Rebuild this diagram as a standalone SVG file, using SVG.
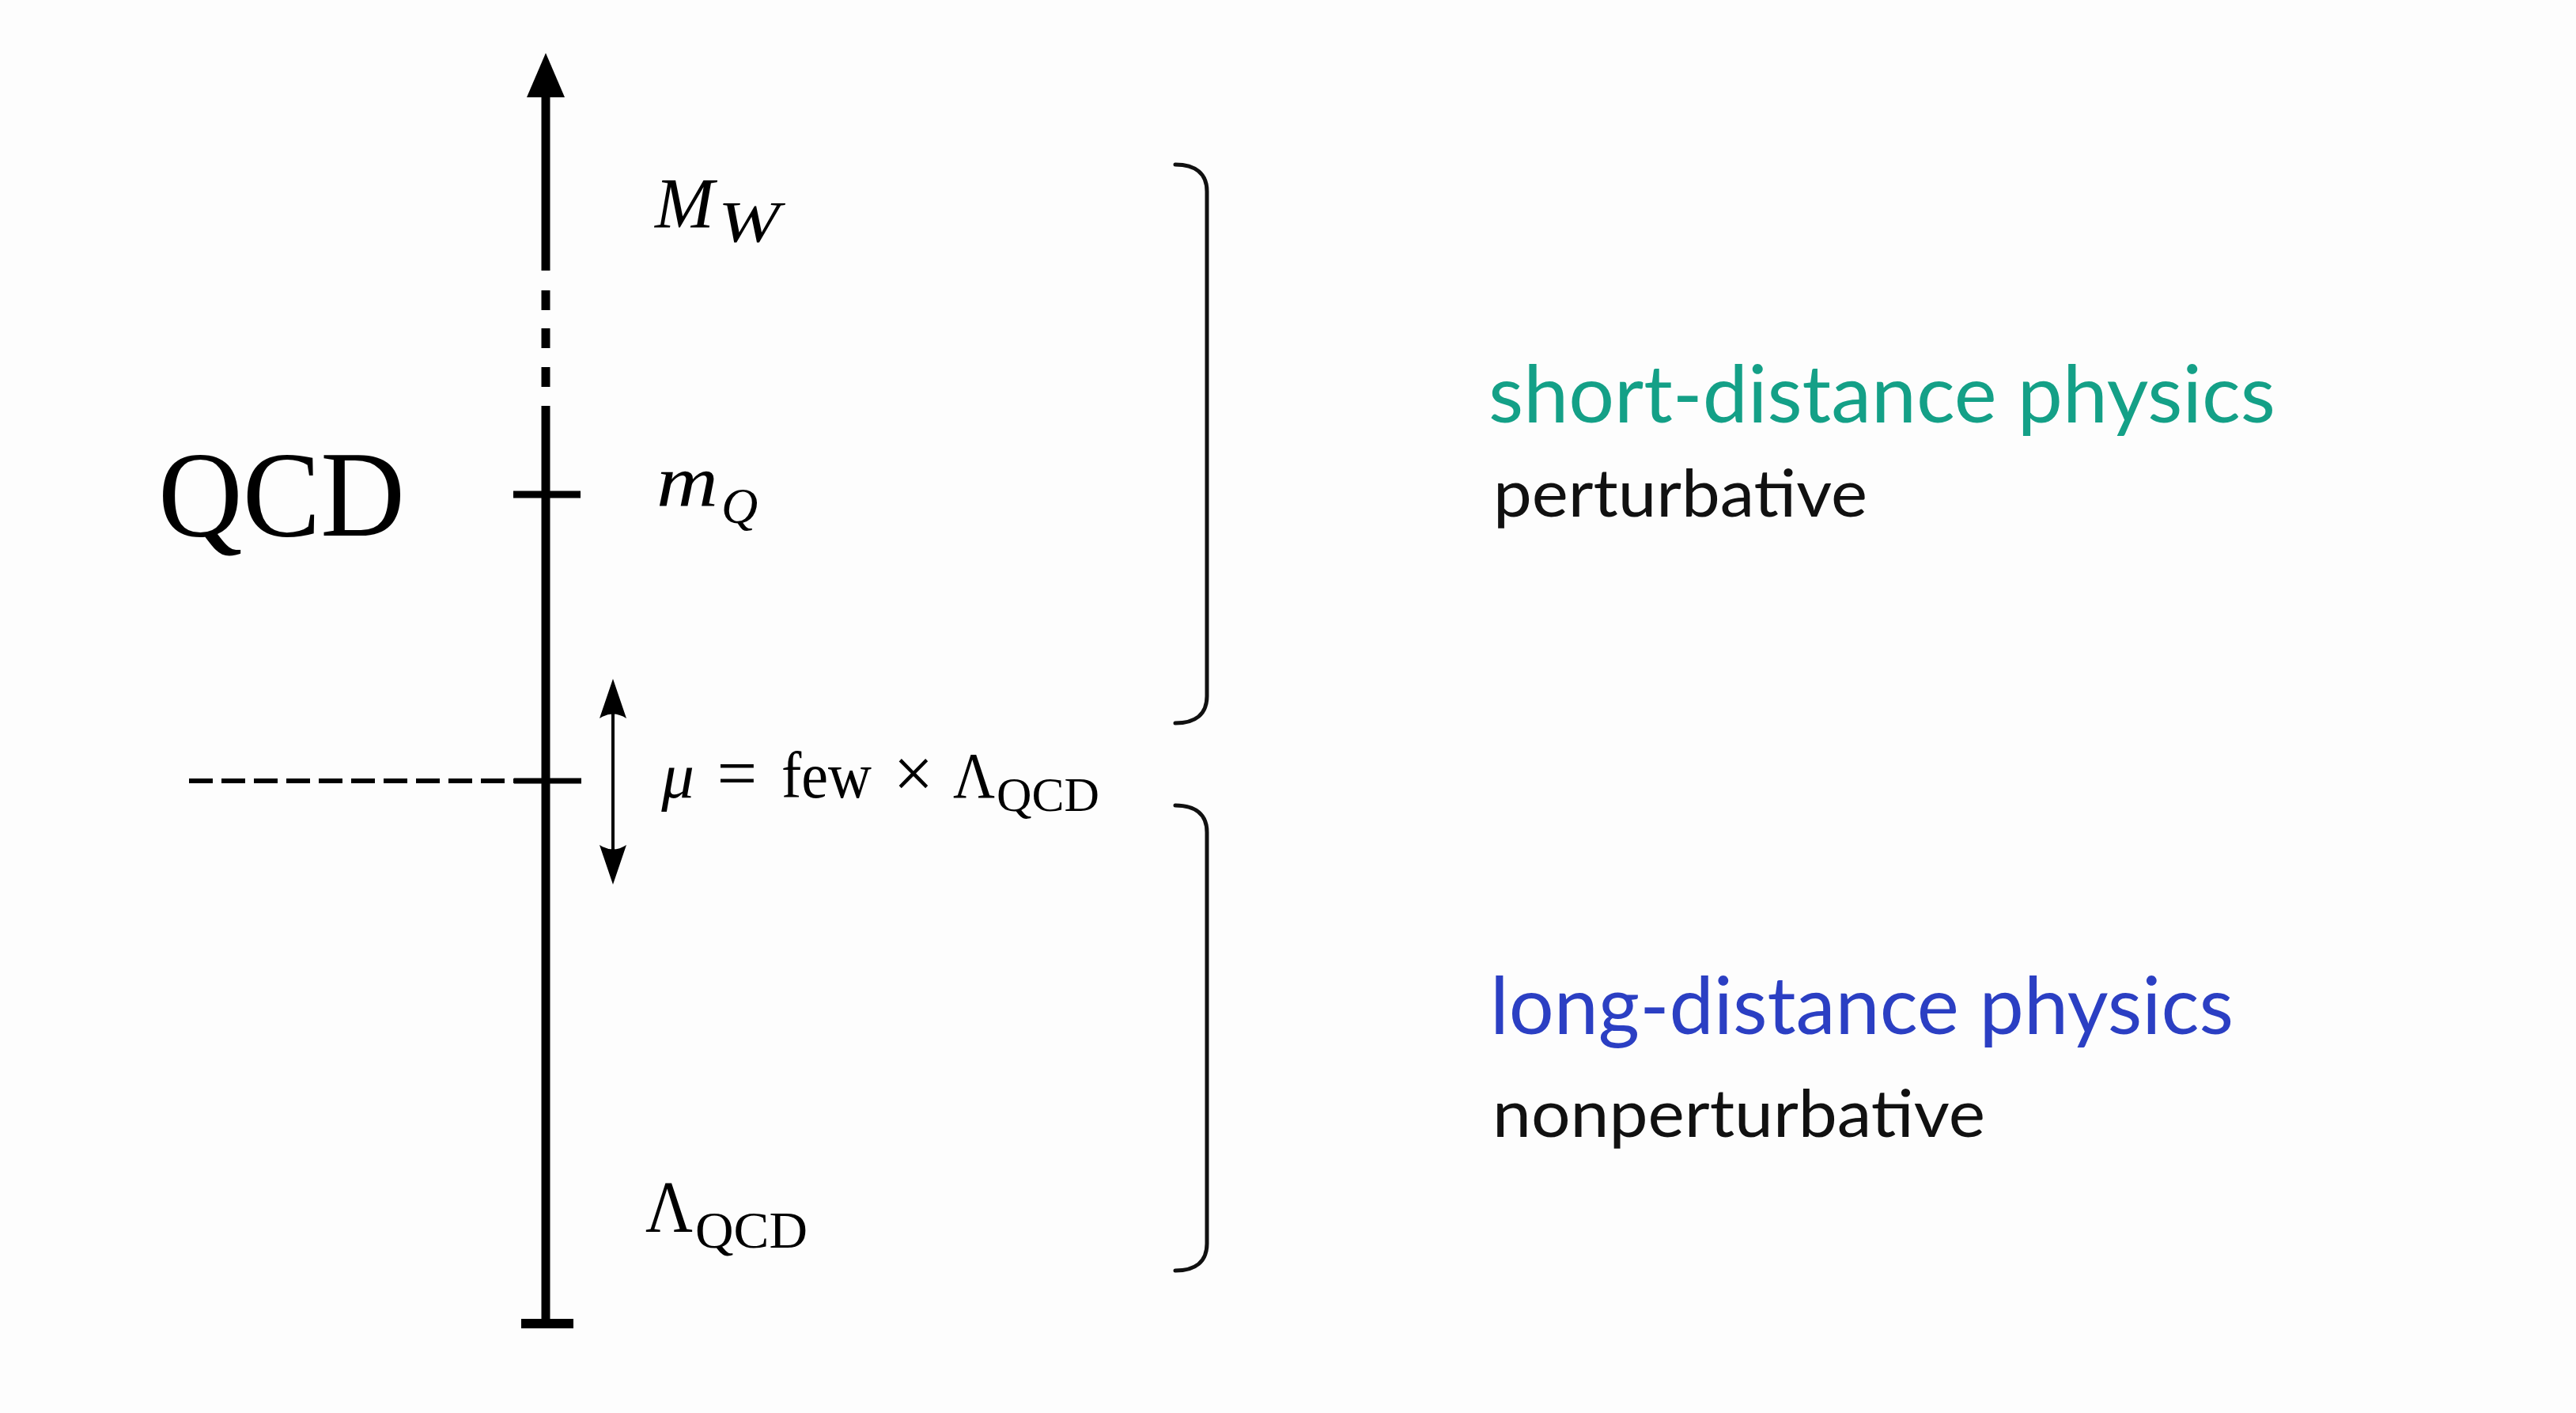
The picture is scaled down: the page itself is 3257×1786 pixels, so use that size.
<svg xmlns="http://www.w3.org/2000/svg" width="3257" height="1786" viewBox="0 0 3257 1786">
<style>
.math{font-family:"Liberation Serif","DejaVu Serif",serif;fill:#000}
.it{font-style:italic}
.ax{stroke:#000;fill:none}
.br{stroke:#111;stroke-width:5;fill:none;stroke-linecap:round}
.sans{font-family:Lato,"Open Sans","Noto Sans",sans-serif}
.teal{fill:#14a087}
.blue{fill:#2b3fc3}
.dark{fill:#111}
</style>
<rect x="0" y="0" width="3257" height="1786" fill="#fdfdfd"/>

<g id="connectors">
  <!-- main scale axis -->
  <polygon points="690,67 714,123 666,123" fill="#000"/>
  <line class="ax" x1="690" y1="120" x2="690" y2="342" stroke-width="11"/>
  <line class="ax" x1="690" y1="367" x2="690" y2="392" stroke-width="11"/>
  <line class="ax" x1="690" y1="415" x2="690" y2="440" stroke-width="11"/>
  <line class="ax" x1="690" y1="464" x2="690" y2="489" stroke-width="11"/>
  <line class="ax" x1="690" y1="513" x2="690" y2="1673" stroke-width="11"/>
  <!-- ticks -->
  <line class="ax" x1="649" y1="625" x2="734" y2="625" stroke-width="9"/>
  <line class="ax" x1="650" y1="987" x2="735" y2="987" stroke-width="7"/>
  <line class="ax" x1="659" y1="1673" x2="725" y2="1673" stroke-width="12"/>
  <!-- dashed cut line -->
  <line class="ax" x1="239" y1="987" x2="650" y2="987" stroke-width="6" stroke-dasharray="30 11"/>
  <!-- double arrow -->
  <line class="ax" x1="775" y1="885" x2="775" y2="1092" stroke-width="4"/>
  <path d="M775,858 L792,908 Q775,897 758,908 Z" fill="#000"/>
  <path d="M775,1118 L792,1068 Q775,1079 758,1068 Z" fill="#000"/>
  <!-- brackets -->
  <path class="br" d="M1486,208 C1512,208 1526,220 1526,242 V880 C1526,902 1512,914 1486,914"/>
  <path class="br" d="M1486,1018 C1512,1018 1526,1030 1526,1052 V1572 C1526,1594 1512,1606 1486,1606"/>
</g>

<g id="qcd-title">
  <text class="math" x="200" y="677" font-size="155" textLength="312" lengthAdjust="spacingAndGlyphs">QCD</text>
</g>

<g id="label-MW">
  <text class="math it" x="828" y="288" font-size="90">M</text>
  <text class="math it" x="908" y="306" font-size="74" textLength="78" lengthAdjust="spacingAndGlyphs">W</text>
</g>

<g id="label-mQ">
  <text class="math it" x="830" y="640" font-size="94" textLength="78" lengthAdjust="spacingAndGlyphs">m</text>
  <text class="math it" x="912" y="661" font-size="64">Q</text>
</g>

<g id="label-mu">
  <text class="math it" x="857" y="1008" font-size="83" text-anchor="middle">μ</text>
  <text class="math" x="932" y="1008" font-size="90" text-anchor="middle">=</text>
  <text class="math" x="988" y="1008" font-size="83" textLength="114" lengthAdjust="spacingAndGlyphs">few</text>
  <text class="math" x="1155" y="1008" font-size="90" text-anchor="middle">×</text>
  <text class="math" x="1205" y="1008" font-size="83" textLength="53" lengthAdjust="spacingAndGlyphs">Λ</text>
  <text class="math" x="1260" y="1025" font-size="62" textLength="130" lengthAdjust="spacingAndGlyphs">QCD</text>
</g>

<g id="label-lambda">
  <text class="math" x="816" y="1557" font-size="94" textLength="60" lengthAdjust="spacingAndGlyphs">Λ</text>
  <text class="math" x="879" y="1577" font-size="66" textLength="142" lengthAdjust="spacingAndGlyphs">QCD</text>
</g>

<g id="short-distance">
  <text class="sans teal" x="1882" y="534" font-size="100" textLength="995" lengthAdjust="spacingAndGlyphs">short-distance physics</text>
  <text class="sans dark" x="1888" y="653" font-size="84" textLength="473" lengthAdjust="spacingAndGlyphs">perturbative</text>
</g>

<g id="long-distance">
  <text class="sans blue" x="1884" y="1307" font-size="100" textLength="940" lengthAdjust="spacingAndGlyphs">long-distance physics</text>
  <text class="sans dark" x="1887" y="1437" font-size="84" textLength="623" lengthAdjust="spacingAndGlyphs">nonperturbative</text>
</g>
</svg>
